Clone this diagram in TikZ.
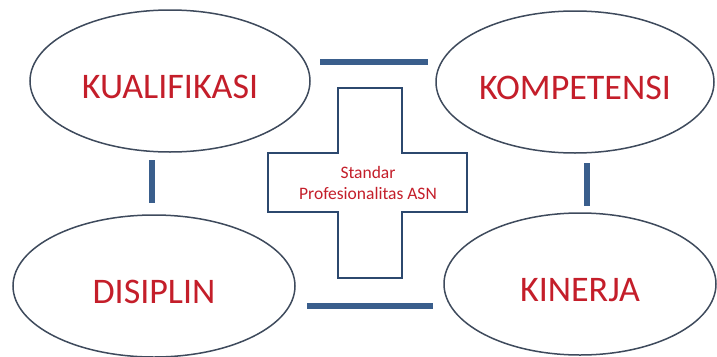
\documentclass[tikz,border=0pt]{standalone}
\usepackage{fontspec}
\setmainfont{Carlito}
\usetikzlibrary{shapes.geometric,positioning,calc}
\definecolor{edgegray}{RGB}{62,74,92}
\definecolor{barblue}{RGB}{58,94,140}
\definecolor{crossblue}{RGB}{44,72,110}
\definecolor{labred}{RGB}{196,30,42}
\tikzset{
  pillar/.style={ellipse, draw=edgegray, line width=1.5pt, fill=white,
    minimum width=#1, minimum height=142pt, inner sep=0pt,
    text height=35pt, text depth=0pt,
    font=\fontsize{36}{38}\selectfont, text=labred},
  bar/.style={draw=barblue, line width=6.5pt},
}
\begin{document}
\begin{tikzpicture}[x=1pt, y=-1pt]
    \useasboundingbox (0,0) rectangle (717,356);
    % four pillars
    \node[pillar=280pt] (kual) at (170,81) {KUALIFIKASI};
    \node[pillar=278pt] (komp) at (575,82) {KOMPETENSI};
    \node[pillar=282pt] (disi) at (154,286) {DISIPLIN};
    \node[pillar=272pt] (kine) at (580,284) {KINERJA};
    % links between pillars
    \coordinate (t1) at (320,62);  \coordinate (t2) at (428,62);
    \coordinate (l1) at (152,160); \coordinate (l2) at (152,203);
    \coordinate (r1) at (587,163); \coordinate (r2) at (587,206);
    \coordinate (b1) at (307,306); \coordinate (b2) at (433,306);
    \draw[bar] (t1) -- (t2);
    \draw[bar] (l1) -- (l2);
    \draw[bar] (r1) -- (r2);
    \draw[bar] (b1) -- (b2);
    % central cross
    \draw[crossblue, line width=2.6pt, fill=white]
      (338,88) -- (402,88) -- (402,153) -- (467,153) -- (467,212)
      -- (402,212) -- (402,278) -- (338,278) -- (338,212) -- (268,212)
      -- (268,153) -- (338,153) -- cycle;
    \node[align=center, text=labred, font=\fontsize{17.5}{21}\selectfont] (std) at (368,183)
      {Standar\\Profesionalitas ASN};
  \end{tikzpicture}
\end{document}
